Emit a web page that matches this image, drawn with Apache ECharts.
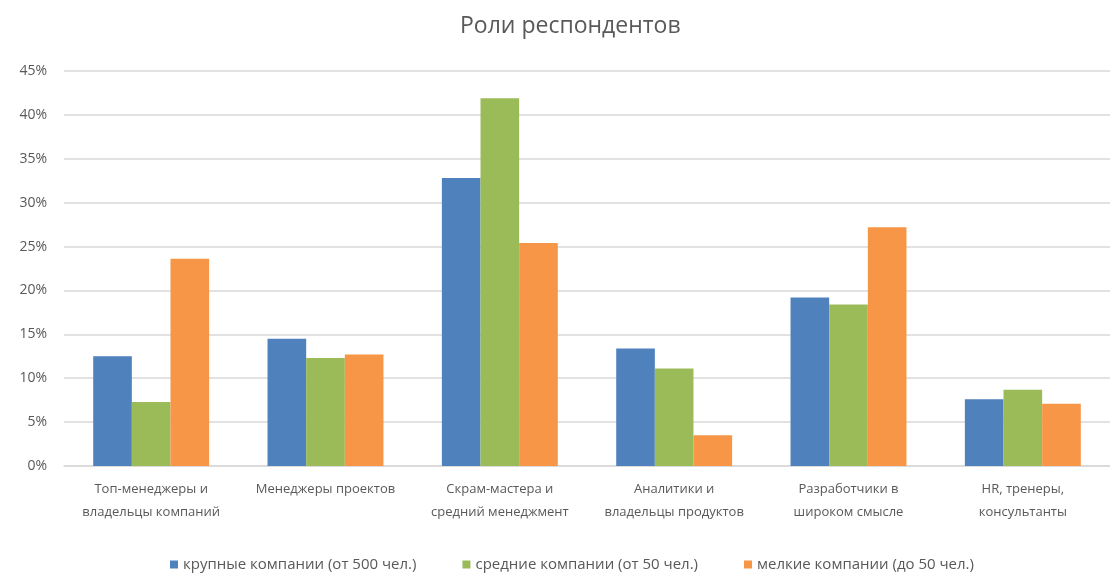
<!DOCTYPE html>
<html>
<head>
<meta charset="utf-8">
<script src="https://cdn.jsdelivr.net/npm/echarts@6/dist/echarts.min.js"></script>
<style>
  html, body { margin: 0; padding: 0; background: #fff; }
  #main { width: 1110px; height: 574px; }
</style>
</head>
<body>
<div id="main"></div>
<script>
// данные диаграммы
const categories = [
  "Топ-менеджеры и\nвладельцы компаний",
  "Менеджеры проектов",
  "Скрам-мастера и\nсредний менеджмент",
  "Аналитики и\nвладельцы продуктов",
  "Разработчики в\nшироком смысле",
  "HR, тренеры,\nконсультанты"
];
const seriesNames = [
  "крупные компании (от 500 чел.)",
  "средние компании (от 50 чел.)",
  "мелкие компании (до 50 чел.)"
];
const bigCompanies = [12.5, 14.5, 32.8, 13.4, 19.2, 7.6];
const midCompanies = [7.3, 12.3, 41.9, 11.1, 18.4, 8.7];
const smallCompanies = [23.6, 12.7, 25.4, 3.5, 27.2, 7.1];
const yTicks = { min: 0, max: 45, step: 5 };

(function () {
  let myChart = echarts.init(document.getElementById("main"));
  const font = "'Open Sans', 'Noto Sans', sans-serif";
  const textColor = "#595959";

  let option = {
    animation: false,
    color: ["#4F81BD", "#9BBB59", "#F79646"],
    title: {
      text: "Роли респондентов",
      left: 455,
      top: 10,
      textStyle: {
        fontFamily: font,
        fontSize: 23,
        fontWeight: "normal",
        color: textColor,
      },
    },
    legend: {
      left: 165,
      top: 552,
      itemWidth: 8,
      itemHeight: 8,
      itemGap: 46,
      icon: "rect",
      textStyle: {
        fontFamily: font,
        fontSize: 15,
        color: textColor,
        padding: [7, 0, 0, 0],
      },
      data: seriesNames,
    },
    grid: {
      left: 64,
      right: -9,
      top: 71,
      bottom: 108,
    },
    xAxis: {
      type: "category",
      data: categories,
      axisTick: { show: false },
      axisLine: {
        lineStyle: { color: "#d9d9d9", width: 1.5 },
      },
      axisLabel: {
        interval: 0,
        margin: 12,
        fontFamily: font,
        fontSize: 13,
        lineHeight: 23,
        color: textColor,
      },
    },
    yAxis: {
      type: "value",
      min: yTicks.min,
      max: yTicks.max,
      interval: yTicks.step,
      axisLine: { show: false },
      axisTick: { show: false },
      axisLabel: {
        formatter: "{value}%",
        margin: 17,
        fontFamily: font,
        fontSize: 14,
        color: textColor,
      },
      splitLine: {
        lineStyle: { color: "#d9d9d9", width: 1.5 },
      },
    },
    series: [
      { name: seriesNames[0], type: "bar", data: bigCompanies, barGap: "0%", barCategoryGap: "33.5%" },
      { name: seriesNames[1], type: "bar", data: midCompanies, barGap: "0%", barCategoryGap: "33.5%" },
      { name: seriesNames[2], type: "bar", data: smallCompanies, barGap: "0%", barCategoryGap: "33.5%" },
    ],
  };

  myChart.setOption(option);
  window.addEventListener("resize", function () {
    myChart.resize();
  });
})();
</script>
</body>
</html>
